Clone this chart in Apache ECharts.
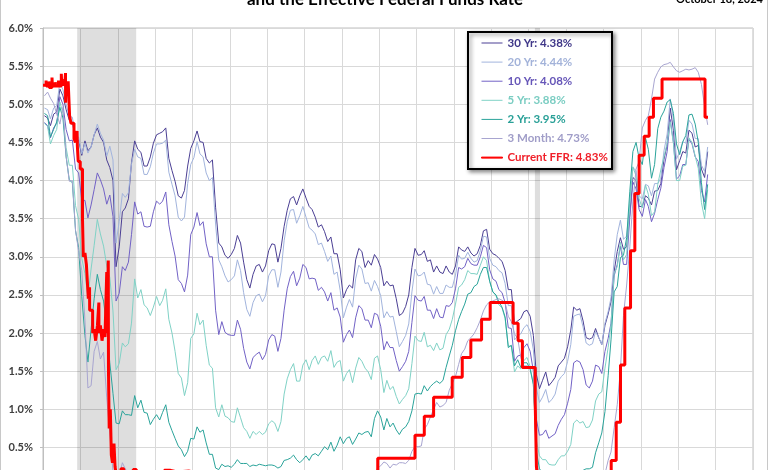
<!DOCTYPE html>
<html>
<head>
<meta charset="utf-8">
<title>Treasury Yields and the Effective Federal Funds Rate</title>
<script src="https://cdn.jsdelivr.net/npm/echarts@6/dist/echarts.min.js"></script>
<style>
  html, body { margin: 0; padding: 0; background: #fff; }
  #chart { width: 770px; height: 470px; }
</style>
</head>
<body>
<div id="chart"></div>
<script>
const titleText = 'and the Effective Federal Funds Rate';
const dateText = 'October 18, 2024';

// monthly yields, Jan 2007 .. Oct 2024
const startYear = 2007;
const yr30 = [
  4.85, 4.82, 4.72, 4.87, 4.90, 5.20, 5.11, 4.93, 4.79, 4.77, 4.52, 4.53,
  4.33, 4.52, 4.39, 4.44, 4.60, 4.69, 4.57, 4.50, 4.27, 4.17, 4.00, 2.87,
  3.13, 3.59, 3.64, 3.76, 4.23, 4.52, 4.41, 4.37, 4.19, 4.19, 4.31, 4.49,
  4.60, 4.62, 4.64, 4.69, 4.29, 4.13, 3.99, 3.80, 3.77, 3.87, 4.19, 4.42,
  4.52, 4.65, 4.51, 4.50, 4.29, 4.23, 4.27, 3.65, 3.18, 3.13, 3.02, 2.98,
  3.03, 3.11, 3.28, 3.18, 2.93, 2.70, 2.59, 2.77, 2.88, 2.90, 2.80, 2.88,
  3.08, 3.17, 3.16, 2.93, 3.11, 3.40, 3.61, 3.76, 3.79, 3.68, 3.80, 3.89,
  3.77, 3.66, 3.62, 3.52, 3.39, 3.42, 3.33, 3.20, 3.26, 3.04, 3.04, 2.83,
  2.46, 2.57, 2.63, 2.59, 2.96, 3.11, 3.07, 2.86, 2.95, 2.89, 3.03, 2.97,
  2.86, 2.62, 2.68, 2.62, 2.63, 2.45, 2.23, 2.26, 2.35, 2.50, 2.86, 3.11,
  3.02, 3.03, 3.08, 2.94, 2.96, 2.80, 2.88, 2.80, 2.78, 2.88, 2.80, 2.77,
  2.88, 3.13, 3.09, 3.07, 3.13, 3.05, 3.01, 3.04, 3.15, 3.34, 3.36, 3.10,
  3.04, 3.02, 2.98, 2.94, 2.82, 2.57, 2.57, 2.12, 2.16, 2.19, 2.28, 2.30,
  2.22, 1.97, 1.46, 1.27, 1.38, 1.49, 1.31, 1.36, 1.42, 1.57, 1.62, 1.67,
  1.82, 2.04, 2.34, 2.30, 2.32, 2.16, 1.94, 1.92, 1.94, 2.06, 1.94, 1.85,
  2.10, 2.25, 2.41, 2.81, 3.07, 3.25, 3.10, 3.13, 3.56, 4.04, 4.00, 3.66,
  3.66, 3.80, 3.77, 3.68, 3.86, 3.87, 3.96, 4.28, 4.47, 4.95, 4.66, 4.14,
  4.26, 4.38, 4.36, 4.66, 4.62, 4.44, 4.46, 4.15, 4.04, 4.38
];
const yr20 = [
  4.95, 4.93, 4.81, 4.95, 4.98, 5.29, 5.19, 5.00, 4.84, 4.83, 4.56, 4.57,
  4.35, 4.49, 4.36, 4.44, 4.60, 4.74, 4.62, 4.53, 4.32, 4.45, 4.27, 3.18,
  3.46, 3.83, 3.78, 3.84, 4.22, 4.41, 4.31, 4.29, 4.08, 4.08, 4.18, 4.36,
  4.48, 4.48, 4.49, 4.53, 4.11, 3.95, 3.80, 3.52, 3.47, 3.52, 3.96, 4.21,
  4.30, 4.51, 4.35, 4.31, 4.10, 4.00, 4.04, 3.43, 2.96, 2.87, 2.75, 2.67,
  2.70, 2.75, 2.96, 2.82, 2.53, 2.31, 2.22, 2.40, 2.49, 2.51, 2.41, 2.49,
  2.75, 2.83, 2.83, 2.60, 2.80, 3.21, 3.46, 3.61, 3.62, 3.44, 3.54, 3.66,
  3.52, 3.38, 3.35, 3.30, 3.16, 3.18, 3.07, 2.94, 3.01, 2.77, 2.80, 2.56,
  2.20, 2.34, 2.44, 2.34, 2.71, 2.89, 2.84, 2.65, 2.66, 2.55, 2.69, 2.61,
  2.49, 2.20, 2.28, 2.21, 2.22, 2.02, 1.82, 1.89, 1.97, 2.12, 2.54, 2.84,
  2.75, 2.76, 2.80, 2.64, 2.63, 2.51, 2.61, 2.52, 2.52, 2.63, 2.60, 2.60,
  2.76, 3.02, 2.97, 2.98, 3.06, 2.98, 2.93, 2.95, 3.08, 3.27, 3.26, 2.98,
  2.89, 2.87, 2.82, 2.79, 2.65, 2.36, 2.36, 1.91, 1.96, 1.99, 2.07, 2.11,
  2.02, 1.78, 1.28, 1.09, 1.16, 1.26, 1.09, 1.13, 1.20, 1.37, 1.43, 1.47,
  1.63, 1.85, 2.22, 2.24, 2.25, 2.08, 1.87, 1.84, 1.86, 2.02, 1.94, 1.85,
  2.13, 2.28, 2.46, 2.96, 3.29, 3.48, 3.23, 3.27, 3.70, 4.17, 4.13, 3.80,
  3.76, 3.95, 3.93, 3.80, 3.96, 3.96, 4.03, 4.39, 4.61, 5.07, 4.80, 4.28,
  4.38, 4.51, 4.49, 4.79, 4.74, 4.55, 4.55, 4.20, 4.12, 4.44
];
const yr10 = [
  4.76, 4.72, 4.56, 4.69, 4.75, 5.10, 5.00, 4.67, 4.52, 4.53, 4.15, 4.10,
  3.74, 3.74, 3.51, 3.68, 3.88, 4.10, 4.01, 3.89, 3.69, 3.81, 3.53, 2.42,
  2.52, 2.87, 2.82, 2.93, 3.29, 3.72, 3.56, 3.59, 3.40, 3.39, 3.40, 3.59,
  3.73, 3.69, 3.73, 3.85, 3.42, 3.20, 3.01, 2.70, 2.65, 2.54, 2.76, 3.29,
  3.39, 3.58, 3.41, 3.46, 3.17, 3.00, 3.00, 2.30, 1.98, 2.15, 2.01, 1.98,
  1.97, 1.97, 2.17, 2.05, 1.80, 1.62, 1.53, 1.68, 1.72, 1.75, 1.65, 1.72,
  1.91, 1.98, 1.96, 1.76, 1.93, 2.30, 2.58, 2.74, 2.81, 2.62, 2.72, 2.90,
  2.86, 2.71, 2.72, 2.71, 2.56, 2.60, 2.54, 2.42, 2.53, 2.30, 2.33, 2.21,
  1.88, 1.98, 2.04, 1.94, 2.20, 2.36, 2.32, 2.17, 2.17, 2.07, 2.26, 2.24,
  2.09, 1.78, 1.89, 1.81, 1.81, 1.64, 1.50, 1.56, 1.63, 1.76, 2.14, 2.49,
  2.43, 2.42, 2.48, 2.30, 2.30, 2.19, 2.32, 2.21, 2.20, 2.36, 2.35, 2.40,
  2.58, 2.86, 2.84, 2.87, 2.98, 2.91, 2.89, 2.89, 3.00, 3.15, 3.12, 2.83,
  2.71, 2.68, 2.57, 2.53, 2.40, 2.07, 2.06, 1.63, 1.70, 1.71, 1.81, 1.86,
  1.76, 1.50, 0.87, 0.66, 0.67, 0.73, 0.62, 0.65, 0.68, 0.79, 0.87, 0.93,
  1.08, 1.26, 1.61, 1.64, 1.62, 1.52, 1.32, 1.28, 1.37, 1.58, 1.56, 1.47,
  1.76, 1.93, 2.13, 2.75, 2.90, 3.14, 2.90, 2.90, 3.52, 3.98, 3.89, 3.62,
  3.53, 3.75, 3.66, 3.46, 3.57, 3.75, 3.90, 4.17, 4.38, 4.80, 4.50, 4.02,
  4.06, 4.21, 4.21, 4.54, 4.48, 4.31, 4.25, 3.87, 3.72, 4.08
];
const yr5 = [
  4.75, 4.71, 4.48, 4.59, 4.67, 5.03, 4.88, 4.43, 4.20, 4.20, 3.67, 3.49,
  2.98, 2.78, 2.48, 2.84, 3.15, 3.49, 3.30, 3.14, 2.88, 2.73, 2.29, 1.52,
  1.60, 1.87, 1.82, 1.86, 2.13, 2.71, 2.46, 2.57, 2.37, 2.33, 2.23, 2.34,
  2.48, 2.36, 2.43, 2.58, 2.18, 2.00, 1.76, 1.47, 1.41, 1.18, 1.35, 1.93,
  1.99, 2.26, 2.11, 2.17, 1.84, 1.58, 1.54, 1.02, 0.90, 1.06, 0.91, 0.89,
  0.84, 0.83, 1.02, 0.89, 0.76, 0.71, 0.62, 0.71, 0.67, 0.71, 0.67, 0.70,
  0.81, 0.85, 0.82, 0.71, 0.84, 1.20, 1.40, 1.52, 1.60, 1.37, 1.37, 1.58,
  1.65, 1.52, 1.64, 1.70, 1.59, 1.68, 1.70, 1.63, 1.77, 1.55, 1.62, 1.64,
  1.37, 1.47, 1.52, 1.35, 1.54, 1.68, 1.63, 1.54, 1.49, 1.39, 1.67, 1.70,
  1.52, 1.22, 1.38, 1.26, 1.30, 1.17, 1.07, 1.13, 1.18, 1.27, 1.60, 1.96,
  1.90, 1.89, 2.01, 1.82, 1.84, 1.77, 1.87, 1.78, 1.80, 1.98, 2.05, 2.18,
  2.38, 2.60, 2.63, 2.70, 2.82, 2.78, 2.78, 2.77, 2.89, 3.00, 2.95, 2.68,
  2.54, 2.49, 2.37, 2.33, 2.19, 1.83, 1.83, 1.49, 1.57, 1.53, 1.64, 1.68,
  1.56, 1.32, 0.59, 0.39, 0.34, 0.34, 0.28, 0.27, 0.27, 0.34, 0.39, 0.39,
  0.45, 0.54, 0.82, 0.86, 0.82, 0.84, 0.76, 0.77, 0.86, 1.11, 1.20, 1.23,
  1.54, 1.81, 2.11, 2.78, 2.87, 3.19, 2.96, 3.03, 3.70, 4.18, 4.06, 3.76,
  3.64, 3.94, 3.82, 3.54, 3.59, 3.95, 4.14, 4.31, 4.49, 4.77, 4.49, 4.00,
  4.00, 4.19, 4.20, 4.56, 4.50, 4.32, 4.16, 3.71, 3.50, 3.88
];
const yr2 = [
  4.88, 4.85, 4.57, 4.67, 4.77, 4.96, 4.82, 4.31, 4.01, 3.97, 3.34, 3.12,
  2.48, 1.97, 1.62, 2.05, 2.45, 2.77, 2.57, 2.42, 2.08, 1.61, 1.21, 0.82,
  0.81, 0.98, 0.93, 0.93, 0.92, 1.18, 1.02, 1.12, 0.96, 0.95, 0.80, 0.87,
  0.93, 0.86, 0.96, 1.06, 0.83, 0.72, 0.62, 0.52, 0.47, 0.38, 0.45, 0.62,
  0.61, 0.77, 0.70, 0.73, 0.56, 0.41, 0.41, 0.23, 0.21, 0.28, 0.25, 0.26,
  0.24, 0.28, 0.34, 0.29, 0.29, 0.29, 0.25, 0.27, 0.26, 0.28, 0.27, 0.26,
  0.27, 0.27, 0.26, 0.23, 0.25, 0.33, 0.34, 0.36, 0.40, 0.34, 0.30, 0.34,
  0.39, 0.33, 0.40, 0.42, 0.39, 0.45, 0.51, 0.47, 0.57, 0.45, 0.53, 0.64,
  0.55, 0.62, 0.64, 0.54, 0.61, 0.69, 0.67, 0.70, 0.71, 0.64, 0.88, 0.98,
  0.90, 0.73, 0.88, 0.77, 0.82, 0.73, 0.67, 0.74, 0.77, 0.84, 0.98, 1.20,
  1.21, 1.20, 1.31, 1.24, 1.30, 1.34, 1.37, 1.34, 1.38, 1.55, 1.70, 1.84,
  2.03, 2.18, 2.28, 2.38, 2.51, 2.53, 2.61, 2.64, 2.77, 2.86, 2.86, 2.68,
  2.54, 2.50, 2.41, 2.34, 2.21, 1.81, 1.84, 1.57, 1.65, 1.55, 1.61, 1.61,
  1.52, 1.33, 0.45, 0.22, 0.17, 0.19, 0.14, 0.14, 0.13, 0.14, 0.16, 0.13,
  0.13, 0.12, 0.15, 0.16, 0.16, 0.20, 0.22, 0.22, 0.24, 0.43, 0.56, 0.69,
  0.97, 1.44, 1.91, 2.54, 2.61, 2.99, 3.02, 3.25, 3.86, 4.38, 4.50, 4.29,
  4.21, 4.56, 4.41, 4.03, 4.21, 4.68, 4.83, 4.91, 5.03, 5.06, 4.88, 4.48,
  4.34, 4.51, 4.59, 4.86, 4.87, 4.74, 4.50, 3.97, 3.62, 3.95
];
const mo3 = [
  5.11, 5.16, 5.08, 5.01, 4.87, 4.74, 4.96, 4.32, 3.99, 4.00, 3.35, 3.07,
  2.82, 2.17, 1.28, 1.31, 1.76, 1.89, 1.66, 1.75, 1.15, 0.69, 0.19, 0.03,
  0.13, 0.30, 0.22, 0.16, 0.18, 0.18, 0.18, 0.17, 0.12, 0.07, 0.05, 0.05,
  0.08, 0.12, 0.15, 0.16, 0.16, 0.12, 0.16, 0.16, 0.15, 0.13, 0.14, 0.14,
  0.15, 0.13, 0.10, 0.06, 0.04, 0.04, 0.04, 0.02, 0.01, 0.02, 0.01, 0.01,
  0.03, 0.09, 0.08, 0.08, 0.09, 0.09, 0.10, 0.10, 0.11, 0.10, 0.09, 0.07,
  0.07, 0.10, 0.09, 0.06, 0.04, 0.05, 0.04, 0.04, 0.02, 0.05, 0.07, 0.07,
  0.04, 0.05, 0.05, 0.03, 0.03, 0.04, 0.03, 0.03, 0.02, 0.02, 0.02, 0.03,
  0.03, 0.02, 0.03, 0.02, 0.02, 0.02, 0.03, 0.07, 0.02, 0.02, 0.13, 0.23,
  0.26, 0.31, 0.29, 0.23, 0.28, 0.27, 0.30, 0.30, 0.29, 0.33, 0.45, 0.51,
  0.51, 0.52, 0.74, 0.80, 0.90, 1.00, 1.09, 1.03, 1.05, 1.09, 1.25, 1.34,
  1.43, 1.59, 1.73, 1.79, 1.90, 1.94, 1.99, 2.07, 2.17, 2.29, 2.37, 2.41,
  2.42, 2.44, 2.45, 2.43, 2.40, 2.22, 2.15, 1.99, 1.93, 1.68, 1.57, 1.57,
  1.55, 1.54, 0.29, 0.14, 0.13, 0.16, 0.13, 0.10, 0.11, 0.10, 0.09, 0.09,
  0.08, 0.04, 0.03, 0.02, 0.02, 0.04, 0.05, 0.05, 0.04, 0.05, 0.05, 0.06,
  0.15, 0.33, 0.44, 0.76, 1.06, 1.52, 2.23, 2.63, 3.13, 3.72, 4.15, 4.25,
  4.69, 4.79, 4.85, 5.07, 5.33, 5.42, 5.49, 5.52, 5.53, 5.55, 5.49, 5.44,
  5.42, 5.44, 5.46, 5.45, 5.46, 5.48, 5.42, 5.26, 4.97, 4.73
];

// effective fed funds rate, value held from each date to the next
const ffrDates = [
  '2007-01-01', '2007-01-31', '2007-02-02', '2007-02-28', '2007-03-02', '2007-03-30',
  '2007-04-03', '2007-05-01', '2007-05-03', '2007-06-01', '2007-06-04', '2007-06-29',
  '2007-07-03', '2007-07-31', '2007-08-02', '2007-08-09', '2007-08-10', '2007-08-14',
  '2007-08-20', '2007-09-04', '2007-09-18', '2007-10-01', '2007-10-31', '2007-11-15',
  '2007-11-30', '2007-12-03', '2007-12-11', '2007-12-31', '2008-01-22', '2008-01-30',
  '2008-02-15', '2008-02-29', '2008-03-19', '2008-03-31', '2008-04-01', '2008-04-30',
  '2008-05-01', '2008-05-15', '2008-05-30', '2008-06-16', '2008-06-30', '2008-07-01',
  '2008-07-15', '2008-07-31', '2008-08-15', '2008-08-29', '2008-09-15', '2008-09-17',
  '2008-09-30', '2008-10-02', '2008-10-09', '2008-10-20', '2008-10-30', '2008-11-10',
  '2008-11-25', '2008-12-05', '2008-12-16', '2009-02-01', '2009-03-01', '2009-04-01',
  '2009-05-01', '2009-06-01', '2009-07-01', '2010-01-01', '2010-03-01', '2010-04-01',
  '2010-06-01', '2010-08-01', '2010-12-01', '2011-01-01', '2011-04-01', '2011-08-01',
  '2011-10-01', '2012-02-01', '2012-04-01', '2012-08-01', '2012-10-01', '2013-03-01',
  '2013-06-01', '2014-01-01', '2014-06-01', '2015-01-01', '2015-06-01', '2015-12-17',
  '2016-12-15', '2017-03-16', '2017-06-15', '2017-12-14', '2018-03-22', '2018-06-14',
  '2018-09-27', '2018-12-20', '2019-08-01', '2019-09-19', '2019-10-31', '2020-03-04',
  '2020-03-16', '2020-04-01', '2020-07-01', '2021-01-01', '2021-06-17', '2022-01-01',
  '2022-03-17', '2022-05-05', '2022-06-16', '2022-07-28', '2022-09-22', '2022-11-03',
  '2022-12-15', '2023-02-02', '2023-03-23', '2023-05-04', '2023-07-27', '2024-09-19',
  '2024-10-18'
];
const ffrValues = [
  5.25, 5.31, 5.24, 5.30, 5.22, 5.35,
  5.24, 5.29, 5.24, 5.31, 5.24, 5.40,
  5.26, 5.33, 5.26, 5.41, 5.02, 5.30,
  5.15, 5.30, 4.85, 4.75, 4.55, 4.50,
  4.65, 4.45, 4.25, 4.15, 3.50, 3.00,
  3.05, 2.90, 2.45, 2.60, 2.30, 2.20,
  2.00, 2.05, 1.90, 2.10, 2.40, 2.00,
  2.10, 1.90, 2.05, 1.95, 2.80, 2.00,
  2.95, 1.50, 0.75, 1.00, 0.40, 0.30,
  0.55, 0.25, 0.15, 0.22, 0.18, 0.15,
  0.18, 0.21, 0.16, 0.11, 0.16, 0.20,
  0.18, 0.19, 0.18, 0.17, 0.10, 0.10,
  0.07, 0.10, 0.14, 0.13, 0.16, 0.14,
  0.09, 0.07, 0.10, 0.11, 0.13, 0.36,
  0.66, 0.91, 1.16, 1.42, 1.68, 1.91,
  2.18, 2.40, 2.13, 1.90, 1.55, 1.10,
  0.25, 0.05, 0.09, 0.09, 0.08, 0.08,
  0.33, 0.83, 1.58, 2.33, 3.08, 3.83,
  4.33, 4.58, 4.83, 5.08, 5.33, 4.83,
  4.83
];

const recessions = [
  ['2007-12-01', '2009-06-30'],
  ['2020-03-01', '2020-04-20']
];

const yLabels = ['0.0%', '0.5%', '1.0%', '1.5%', '2.0%', '2.5%', '3.0%', '3.5%', '4.0%', '4.5%', '5.0%', '5.5%', '6.0%'];

const chart = echarts.init(document.getElementById('chart'));

const monthDates = yr30.map((v, i) => Date.UTC(startYear, i, 15));
const toTime = d => Date.parse(d + 'T00:00:00Z');

const yieldLines = [
  { name: '30 Yr: 4.38%', values: yr30, color: '#4B3F94', text: '#3F3788' },
  { name: '20 Yr: 4.44%', values: yr20, color: '#A2B4DD', text: '#A2B2D9' },
  { name: '10 Yr: 4.08%', values: yr10, color: '#7262C6', text: '#6656B8' },
  { name: '5 Yr: 3.88%', values: yr5, color: '#80D2C6', text: '#7ACDC2' },
  { name: '2 Yr: 3.95%', values: yr2, color: '#2AA39A', text: '#29A097' },
  { name: '3 Month: 4.73%', values: mo3, color: '#A8A5D0', text: '#A09DC8' }
];
const ffrName = 'Current FFR: 4.83%';

const series = [
  {
    name: 'recession',
    type: 'line',
    data: [],
    silent: true,
    z: 1,
    markArea: {
      silent: true,
      itemStyle: { color: 'rgba(0,0,0,0.13)' },
      data: recessions.map(r => [{ xAxis: toTime(r[0]) }, { xAxis: toTime(r[1]) }])
    }
  }
];
yieldLines.forEach(s => {
  series.push({
    name: s.name,
    type: 'line',
    symbol: 'none',
    z: 3,
    lineStyle: { color: s.color, width: 1 },
    itemStyle: { color: s.color },
    data: monthDates.map((d, i) => [d, s.values[i]])
  });
});
series.push({
  name: ffrName,
  type: 'line',
  symbol: 'none',
  step: 'end',
  z: 4,
  lineStyle: { color: '#FF0000', width: 3 },
  itemStyle: { color: '#FF0000' },
  data: ffrDates.map((d, i) => [toTime(d), ffrValues[i]])
});

// legend keys drawn as short flat bars; the FFR one gets a border to look thicker
const legendData = yieldLines.map(s => ({
  name: s.name,
  icon: 'rect',
  itemStyle: { color: s.color, borderWidth: 0 },
  textStyle: { color: s.text }
}));
legendData.push({
  name: ffrName,
  icon: 'rect',
  itemStyle: { color: '#FF0000', borderColor: '#FF0000', borderWidth: 1 },
  textStyle: { color: '#F0202A' }
});

const option = {
  animation: false,
  useUTC: true,
  backgroundColor: '#fff',
  grid: {
    left: 43,
    right: 17,
    top: 28,
    height: 457.6,
    outerBoundsMode: 'none',
    containLabel: false,
    show: true,
    borderColor: '#BFBFBF',
    borderWidth: 1
  },
  xAxis: {
    type: 'time',
    min: Date.UTC(2007, 0, 1),
    max: Date.UTC(2026, 0, 1),
    minInterval: 365 * 24 * 3600 * 1000,
    maxInterval: 366 * 24 * 3600 * 1000,
    axisLabel: { show: false },
    axisTick: { show: false },
    axisLine: { show: false },
    splitLine: { show: true, lineStyle: { color: '#D9D9D9', width: 1 } }
  },
  yAxis: {
    type: 'value',
    min: 0,
    max: 6,
    interval: 0.5,
    axisLine: { show: true, lineStyle: { color: '#BFBFBF' } },
    axisTick: { show: true, length: 3, lineStyle: { color: '#BFBFBF' } },
    axisLabel: {
      margin: 10,
      color: '#404040',
      fontFamily: 'Lato',
      fontWeight: 'bold',
      fontSize: 11,
      formatter: v => yLabels[Math.round(v * 2)]
    },
    splitLine: { lineStyle: { color: '#D9D9D9', width: 1 } }
  },
  legend: {
    data: legendData,
    orient: 'vertical',
    left: 481,
    top: 36,
    padding: 0,
    itemWidth: 21,
    itemHeight: 1,
    itemGap: 5.1,
    selectedMode: false,
    z: 60,
    textStyle: { fontFamily: 'Lato', fontWeight: 'bold', fontSize: 11.5, lineHeight: 14 }
  },
  graphic: [
    {
      type: 'text',
      x: 385,
      y: 0,
      z: 70,
      style: { text: titleText, fill: '#000', font: 'bold 17px Lato', align: 'center', verticalAlign: 'middle' }
    },
    {
      type: 'text',
      x: 763,
      y: -1,
      z: 70,
      style: { text: dateText, fill: '#000', font: 'bold 11px Lato', align: 'right', verticalAlign: 'middle' }
    },
    {
      type: 'rect',
      z: 50,
      shape: { x: 468, y: 32, width: 144, height: 137 },
      style: {
        fill: '#fff',
        stroke: '#000',
        lineWidth: 2,
        shadowBlur: 4,
        shadowOffsetX: 2,
        shadowOffsetY: 2,
        shadowColor: 'rgba(0,0,0,0.45)'
      }
    },
    {
      type: 'rect',
      z: 70,
      silent: true,
      shape: { x: 0.5, y: -5, width: 767, height: 490 },
      style: { fill: null, stroke: '#C8C8C8', lineWidth: 1 }
    }
  ],
  series: series
};

chart.setOption(option);
</script>
</body>
</html>
